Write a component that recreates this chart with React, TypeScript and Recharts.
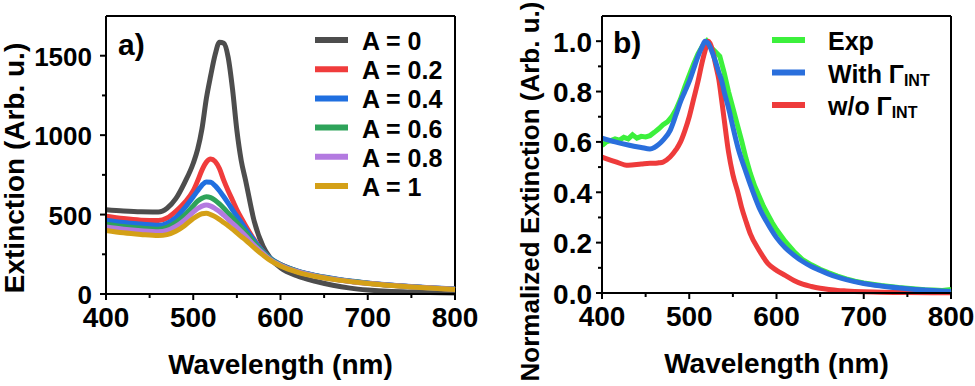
import React from "react";
import { LineChart, Line, XAxis, YAxis, Legend, Label, ReferenceLine } from "recharts";

// panel a) - extinction vs wavelength for different A
const wlA = [400, 420, 440, 460, 470, 480, 490, 500, 505, 510, 515, 520, 525, 530, 535, 540, 545, 550, 555, 560, 570, 580, 590, 600, 620, 640, 660, 680, 700, 750, 800];
const extA0 = [530, 522, 517, 516, 540, 600, 700, 823, 910, 1040, 1230, 1375, 1505, 1585, 1578, 1490, 1290, 1030, 840, 715, 455, 300, 215, 165, 112, 80, 55, 37, 25, 12, 6];
const extA02 = [490, 475, 465, 462, 478, 520, 575, 650, 712, 780, 830, 850, 835, 790, 715, 650, 590, 530, 478, 430, 340, 265, 215, 185, 142, 115, 96, 80, 68, 46, 30];
const extA04 = [465, 450, 440, 432, 445, 480, 540, 612, 650, 685, 705, 703, 682, 650, 612, 572, 530, 490, 450, 410, 335, 268, 218, 186, 144, 117, 98, 82, 70, 47, 31];
const extA06 = [440, 425, 415, 408, 420, 450, 495, 555, 585, 603, 612, 607, 590, 567, 540, 510, 480, 450, 420, 390, 322, 262, 215, 184, 142, 115, 96, 80, 68, 46, 30];
const extA08 = [422, 408, 398, 392, 400, 425, 465, 515, 538, 553, 560, 553, 538, 520, 496, 470, 445, 420, 393, 365, 305, 255, 210, 181, 140, 113, 94, 79, 67, 45, 30];
const extA1 = [400, 385, 375, 368, 374, 395, 430, 475, 493, 505, 508, 500, 487, 470, 450, 430, 408, 385, 362, 340, 290, 245, 205, 176, 136, 110, 92, 78, 66, 44, 29];

const seriesA = [
  { key: "a0", name: "A = 0", color: "#4d4d4d", values: extA0 },
  { key: "a02", name: "A = 0.2", color: "#f03c3c", values: extA02 },
  { key: "a04", name: "A = 0.4", color: "#1f6fe0", values: extA04 },
  { key: "a06", name: "A = 0.6", color: "#2ea35a", values: extA06 },
  { key: "a08", name: "A = 0.8", color: "#b37ae0", values: extA08 },
  { key: "a1", name: "A = 1", color: "#d4a017", values: extA1 },
];

// panel b) - normalized extinction, models
const wlModel = [400, 415, 430, 445, 455, 460, 465, 470, 478, 485, 490, 495, 500, 505, 510, 515, 518, 522, 527, 530, 534, 537, 540, 545, 550, 556, 560, 565, 570, 580, 590, 600, 610, 620, 630, 640, 650, 660, 670, 680, 700, 720, 750, 800];
const withInt = [0.615, 0.6, 0.588, 0.578, 0.572, 0.578, 0.59, 0.607, 0.645, 0.71, 0.76, 0.8, 0.84, 0.89, 0.94, 0.98, 1.0, 0.99, 0.95, 0.92, 0.875, 0.845, 0.8, 0.735, 0.66, 0.575, 0.53, 0.48, 0.43, 0.34, 0.275, 0.22, 0.18, 0.15, 0.125, 0.105, 0.09, 0.075, 0.063, 0.053, 0.038, 0.028, 0.017, 0.006];
const withoutInt = [0.54, 0.522, 0.507, 0.512, 0.515, 0.515, 0.517, 0.52, 0.54, 0.57, 0.6, 0.645, 0.7, 0.77, 0.84, 0.92, 0.96, 1.0, 0.96, 0.91, 0.845, 0.77, 0.69, 0.56, 0.47, 0.396, 0.34, 0.285, 0.235, 0.17, 0.118, 0.09, 0.07, 0.05, 0.035, 0.026, 0.019, 0.014, 0.01, 0.008, 0.005, 0.003, 0.002, 0.001];

// panel b) - experiment
const wlExp = [400, 405, 410, 415, 420, 425, 430, 435, 440, 445, 450, 455, 460, 465, 470, 475, 480, 485, 490, 495, 500, 505, 510, 515, 520, 525, 530, 535, 540, 545, 550, 555, 560, 565, 570, 575, 580, 585, 590, 595, 600, 610, 620, 630, 640, 650, 660, 670, 680, 690, 700, 710, 720, 730, 740, 750, 760, 770, 780, 790, 800];
const expValues = [0.585, 0.6, 0.605, 0.612, 0.607, 0.618, 0.612, 0.628, 0.615, 0.622, 0.62, 0.625, 0.638, 0.652, 0.668, 0.68, 0.7, 0.73, 0.77, 0.82, 0.865, 0.91, 0.95, 0.98, 1.0, 0.975, 0.958, 0.94, 0.875, 0.8, 0.735, 0.67, 0.605, 0.535, 0.475, 0.425, 0.385, 0.345, 0.312, 0.28, 0.252, 0.205, 0.165, 0.132, 0.112, 0.094, 0.08, 0.067, 0.056, 0.047, 0.04, 0.035, 0.03, 0.026, 0.022, 0.019, 0.016, 0.013, 0.012, 0.01, 0.014];

const ticksX = [400, 450, 500, 550, 600, 650, 700, 750, 800];
const ticksYA = [0, 250, 500, 750, 1000, 1250, 1500];
const ticksYB = [0, 0.1, 0.2, 0.3, 0.4, 0.5, 0.6, 0.7, 0.8, 0.9, 1.0];

const FONT = "'Liberation Sans', Arial, sans-serif";

const rowsA = wlA.map((w, i) => {
  const row: any = { w };
  seriesA.forEach((s) => (row[s.key] = s.values[i]));
  return row;
});
const rowsWith = wlModel.map((w, i) => ({ w, v: withInt[i] }));
const rowsWithout = wlModel.map((w, i) => ({ w, v: withoutInt[i] }));
const rowsExp = wlExp.map((w, i) => ({ w, v: expValues[i] }));

const XTick = (props: any) => {
  const { x, y, payload } = props;
  const major = payload.value % 100 === 0;
  return (
    <g>
      <line x1={x} x2={x} y1={y} y2={y + (major ? 6 : 4)} stroke="#000" strokeWidth={2} />
      {major && (
        <text x={x} y={y + 23} textAnchor="middle" dominantBaseline="central" fontSize={28} fontWeight="bold" fontFamily={FONT} fill="#000">
          {payload.value}
        </text>
      )}
    </g>
  );
};

const YTickA = (props: any) => {
  const { x, y, payload } = props;
  const major = payload.value % 500 === 0;
  return (
    <g>
      <line x1={x} x2={x - (major ? 6 : 4)} y1={y} y2={y} stroke="#000" strokeWidth={2} />
      {major && (
        <text x={x - 14} y={y + 1} textAnchor="end" dominantBaseline="central" fontSize={26} fontWeight="bold" fontFamily={FONT} fill="#000">
          {payload.value}
        </text>
      )}
    </g>
  );
};

const YTickB = (props: any) => {
  const { x, y, payload } = props;
  const major = Math.round(payload.value * 10) % 2 === 0;
  return (
    <g>
      <line x1={x} x2={x - (major ? 6 : 4)} y1={y} y2={y} stroke="#000" strokeWidth={2} />
      {major && (
        <text x={x - 10} y={y + 1} textAnchor="end" dominantBaseline="central" fontSize={28} fontWeight="bold" fontFamily={FONT} fill="#000">
          {payload.value.toFixed(1)}
        </text>
      )}
    </g>
  );
};

const xTitle = (props: any) => {
  const vb = props.viewBox;
  return (
    <text x={vb.x + vb.width / 2} y={vb.y + 70} textAnchor="middle" dominantBaseline="central" fontSize={28} fontWeight="bold" fontFamily={FONT} fill="#000">
      Wavelength (nm)
    </text>
  );
};

const yTitle = (text: string, dx: number, dy: number, size: number) => (props: any) => {
  const vb = props.viewBox;
  const cx = vb.x + dx;
  const cy = vb.y + vb.height / 2 + dy;
  return (
    <text x={cx} y={cy} transform={`rotate(-90 ${cx} ${cy})`} textAnchor="middle" dominantBaseline="central" fontSize={size} fontWeight="bold" fontFamily={FONT} fill="#000">
      {text}
    </text>
  );
};

const LegendA = () => (
  <svg width={170} height={185}>
    {seriesA.map((s, i) => {
      const cy = 20 + i * 29.2;
      return (
        <g key={s.key}>
          <line x1={15} x2={48} y1={cy} y2={cy} stroke={s.color} strokeWidth={6} />
          <text x={62} y={cy + 1} dominantBaseline="central" fontSize={25} fontWeight="bold" fontFamily={FONT} fill="#000">
            {s.name}
          </text>
        </g>
      );
    })}
  </svg>
);

const legendB = [
  { name: "Exp", sub: "", color: "#3cf03c" },
  { name: "With Γ", sub: "INT", color: "#2a6fdc" },
  { name: "w/o Γ", sub: "INT", color: "#ee3b3b" },
];

const LegendB = () => (
  <svg width={200} height={110}>
    {legendB.map((s, i) => {
      const cy = 20 + i * 32.5;
      return (
        <g key={s.name}>
          <line x1={12} x2={45} y1={cy} y2={cy} stroke={s.color} strokeWidth={6} />
          <text x={68} y={cy + 1} dominantBaseline="central" fontSize={25} fontWeight="bold" fontFamily={FONT} fill="#000">
            {s.name}
            {s.sub && (
              <tspan fontSize={16} dy={6}>
                {s.sub}
              </tspan>
            )}
          </text>
        </g>
      );
    })}
  </svg>
);

const letterStyle: React.CSSProperties = {
  position: "absolute",
  fontFamily: FONT,
  fontWeight: 700,
  fontSize: 30,
  lineHeight: "34px",
  color: "#000",
};

const frame = { stroke: "#000", strokeWidth: 2 };

export default function App() {
  return (
    <div style={{ position: "absolute", left: 0, top: 0, width: 975, height: 386, background: "#fff" }}>
      <div style={{ position: "absolute", left: 0, top: 0 }}>
        <LineChart width={480} height={386} data={rowsA} margin={{ top: 16, right: 25, bottom: 0, left: 0 }}>
          <XAxis dataKey="w" type="number" domain={[400, 800]} ticks={ticksX} interval={0} height={92} tickSize={0} tickMargin={0} tickLine={false} tick={<XTick />} axisLine={frame}>
            <Label content={xTitle} />
          </XAxis>
          <YAxis type="number" domain={[0, 1750]} ticks={ticksYA} interval={0} width={106} tickSize={0} tickMargin={0} tickLine={false} tick={<YTickA />} axisLine={frame}>
            <Label content={yTitle("Extinction (Arb. u.)", 14, 13, 28)} />
          </YAxis>
          <ReferenceLine y={1750} stroke="#000" strokeWidth={2} />
          <ReferenceLine x={800} stroke="#000" strokeWidth={2} />
          <Legend layout="vertical" align="center" verticalAlign="middle" wrapperStyle={{ left: 300, top: 20, width: 170, height: 185 }} content={() => <LegendA />} />
          {seriesA.map((s) => (
            <Line key={s.key} type="monotone" dataKey={s.key} name={s.name} stroke={s.color} strokeWidth={5} dot={false} isAnimationActive={false} />
          ))}
        </LineChart>
        <div style={{ ...letterStyle, left: 118, top: 28 }}>a)</div>
      </div>
      <div style={{ position: "absolute", left: 490, top: 0 }}>
        <LineChart width={485} height={386} margin={{ top: 16, right: 24, bottom: 0, left: 0 }}>
          <XAxis dataKey="w" type="number" domain={[400, 800]} ticks={ticksX} interval={0} height={93} tickSize={0} tickMargin={0} tickLine={false} tick={<XTick />} axisLine={frame} allowDuplicatedCategory={false}>
            <Label content={xTitle} />
          </XAxis>
          <YAxis type="number" domain={[0, 1.1]} ticks={ticksYB} interval={0} width={112} tickSize={0} tickMargin={0} tickLine={false} tick={<YTickB />} axisLine={frame}>
            <Label content={yTitle("Normalized Extinction (Arb. u.)", 40, 37, 26)} />
          </YAxis>
          <ReferenceLine y={1.1} stroke="#000" strokeWidth={2} />
          <ReferenceLine x={800} stroke="#000" strokeWidth={2} />
          <Legend layout="vertical" align="center" verticalAlign="middle" wrapperStyle={{ left: 270, top: 20, width: 200, height: 110 }} content={() => <LegendB />} />
          <Line data={rowsExp} type="linear" dataKey="v" name="Exp" stroke="#3cf03c" strokeWidth={5} dot={false} isAnimationActive={false} />
          <Line data={rowsWithout} type="monotone" dataKey="v" name="w/o" stroke="#ee3b3b" strokeWidth={5} dot={false} isAnimationActive={false} />
          <Line data={rowsWith} type="monotone" dataKey="v" name="With" stroke="#2a6fdc" strokeWidth={5} dot={false} isAnimationActive={false} />
        </LineChart>
        <div style={{ ...letterStyle, left: 123, top: 26 }}>b)</div>
      </div>
    </div>
  );
}
